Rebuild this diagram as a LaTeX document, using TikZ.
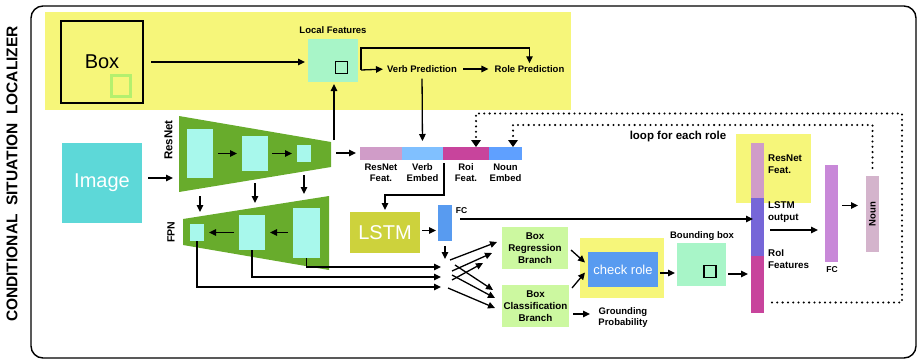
\documentclass[tikz,border=0pt]{standalone}
\usepackage{fontspec}
\setmainfont{Liberation Sans}
\usetikzlibrary{arrows.meta}
\definecolor{yellowbg}{RGB}{246,246,122}
\definecolor{mint}{RGB}{168,245,200}
\definecolor{cyanbox}{RGB}{168,248,236}
\definecolor{netgreen}{RGB}{104,172,44}
\definecolor{turq}{RGB}{93,216,216}
\definecolor{lstmcol}{RGB}{205,210,60}
\definecolor{fcblue}{RGB}{88,155,240}
\definecolor{branchgreen}{RGB}{204,248,160}
\definecolor{lavender}{RGB}{208,156,200}
\definecolor{verbblue}{RGB}{128,192,255}
\definecolor{roimag}{RGB}{200,68,156}
\definecolor{nounblue}{RGB}{95,160,255}
\definecolor{lstmpurple}{RGB}{118,102,216}
\definecolor{orchid}{RGB}{200,136,216}
\definecolor{nounpink}{RGB}{212,180,204}
\definecolor{boxlime}{RGB}{180,240,110}
\tikzset{
  blk/.style={anchor=north west, inner sep=0pt, outer sep=0pt},
  arr/.style={-{Triangle[length=7pt,width=6.5pt]}, line width=1.3pt},
  dotarr/.style={line width=2.3pt, dash pattern=on 0pt off 5.3pt, line cap=round, -{Triangle[length=7pt,width=10pt,line width=0pt]}},
  lbl/.style={font=\bfseries\fontsize{9.5}{11}\selectfont, align=center, inner sep=0pt},
  big/.style={font=\fontsize{20}{22}\selectfont, text=white},
}

\begin{document}
\begin{tikzpicture}[x=1pt,y=-1pt]
            \useasboundingbox (0,0) rectangle (920,360);
            \draw[rounded corners=12pt, line width=1.4pt] (31,6) rectangle (916,358);
            \node[rotate=90, font=\bfseries\fontsize{15.5}{17}\selectfont] (title) at (12,174) {CONDITIONAL\ \ SITUATION\ \ LOCALIZER};
            \fill[yellowbg] (45,12) rectangle (571,110);
            \node[blk, draw, line width=1.2pt, minimum width=82pt, minimum height=82pt, font=\fontsize{20}{22}\selectfont] (box) at (61,21) {Box};
            \node[blk, draw=boxlime, fill=yellowbg, line width=3pt, minimum width=19pt, minimum height=21pt] (boxroi) at (111.5,75.5) {};
            \node[blk, fill=mint, minimum width=50pt, minimum height=43pt] (lf) at (308,39) {};
            \node[blk, draw, fill=mint, line width=1.5pt, minimum width=12pt, minimum height=12pt] (lfroi) at (335.5,61.5) {};
            \node[lbl] (lflab) at (333,30) {Local Features};
            \node[lbl] (vp) at (422,69) {Verb Prediction};
            \node[lbl] (rp) at (529.5,69) {Role Prediction};
            \coordinate (lfout) at (361,70);
            \draw[arr, shorten <=8pt, shorten >=3pt] (box.east) -- (box.east -| lf.west);
            \draw[arr, shorten >=4pt] (lfout) -- (vp.west);
            \draw[arr] (lfout) -- ++(0,-22) -| ([shift={(0,-2)}]rp.north);
            \draw[arr, shorten <=6pt, shorten >=6pt] (vp) -- (rp);
            \node[blk, fill=lavender, minimum width=42pt, minimum height=13pt] (rfeat) at (360,147) {};
            \node[blk, fill=verbblue, minimum width=41pt, minimum height=13pt] (vemb) at (402,147) {};
            \node[blk, fill=roimag, minimum width=46pt, minimum height=13pt] (roif) at (443,147) {};
            \node[blk, fill=nounblue, minimum width=33pt, minimum height=13pt] (nemb) at (489,147) {};
            \node[lbl] at (381,172.5) {ResNet\\Feat.};
            \node[lbl] at (422.5,172.5) {Verb\\Embed};
            \node[lbl] at (466,172.5) {Roi\\Feat.};
            \node[lbl] at (505.5,172.5) {Noun\\Embed};
            \draw[arr, shorten <=6pt, shorten >=6pt] (vp.south) -- (vemb.north);
            \node[blk, fill=turq, minimum width=80pt, minimum height=80pt, big] (img) at (62,143) {Image};
            \fill[netgreen] (179,116) -- (331,142) -- (331,167) -- (179,192) -- cycle;
            \node[blk, fill=cyanbox, minimum width=26pt, minimum height=49pt] (r1) at (187,129) {};
            \node[blk, fill=cyanbox, minimum width=26pt, minimum height=35pt] (r2) at (242,136) {};
            \node[blk, fill=cyanbox, minimum width=14pt, minimum height=17pt] (r3) at (297,145) {};
            \node[rotate=90, lbl, font=\bfseries\fontsize{11.5}{13}\selectfont] (rnlab) at (168.5,140) {ResNet};
            \draw[arr, shorten <=5pt, shorten >=5pt] (r1.east |- r2.east) -- (r2.east -| r2.west);
            \draw[arr, shorten <=4pt, shorten >=5pt] (r2.east) -- (r3.west |- r2.east);
            \draw[arr] ([shift={(6,-5)}]img.east) -- ++(25,0);
            \coordinate (rnout) at (334,140);
            \coordinate (rnright) at (336,153);
            \draw[arr, shorten >=2pt] (rnout) -- (rnout |- lf.south);
            \draw[arr, shorten >=4pt] (rnright) -- (rnright -| rfeat.west);
            \fill[netgreen] (183,219) -- (329,196) -- (329,270) -- (183,245) -- cycle;
            \node[blk, fill=cyanbox, minimum width=14pt, minimum height=17pt] (f1) at (190,224) {};
            \node[blk, fill=cyanbox, minimum width=26pt, minimum height=35pt] (f2) at (239,215) {};
            \node[blk, fill=cyanbox, minimum width=27pt, minimum height=50pt] (f3) at (293,208) {};
            \node[rotate=90, lbl, font=\bfseries\fontsize{10.5}{12}\selectfont] (fpnlab) at (171,232) {FPN};
            \draw[arr, shorten <=5pt, shorten >=5pt] (f3.west |- f2.west) -- (f2.east);
            \draw[arr, shorten <=5pt, shorten >=5pt] (f2.west |- f1.east) -- (f1.east);
            \draw[arr] ([shift={(0,18)}]r1.south) -- ++(0,16);
            \draw[arr] ([shift={(0,12)}]r2.south) -- ++(0,20);
            \draw[arr] ([shift={(0,13)}]r3.south) -- ++(0,19);
            \coordinate (fanin) at (441,277);
            \draw[arr] (f3.south) |- ([shift={(0,-10)}]fanin);
            \draw[arr] (f2.south) |- (fanin);
            \draw[arr] (f1.south) |- ([shift={(0,10)}]fanin);
            \node[blk, fill=lstmcol, minimum width=70pt, minimum height=41pt, big] (lstm) at (350,212) {LSTM};
            \draw[arr, shorten >=2pt] ([shift={(1,3)}]vemb.south east) -- ++(0,32) -| (lstm.north);
            \node[blk, fill=fcblue, minimum width=14pt, minimum height=36pt] (fcl) at (438,205) {};
            \node[lbl, font=\bfseries\fontsize{8.5}{10}\selectfont] at (461.5,211) {FC};
            \draw[arr, shorten <=2pt, shorten >=2pt] ([shift={(0,-2)}]lstm.east) -- ([shift={(0,-2)}]lstm.east -| fcl.west);
            \draw[arr, shorten <=5pt] (fcl.south) -- ++(0,18);
            \node[blk, fill=branchgreen, minimum width=66pt, minimum height=42pt, lbl, font=\bfseries\fontsize{9.8}{11.8}\selectfont] (breg) at (502,227) {Box\\Regression\\Branch};
            \node[blk, fill=branchgreen, minimum width=67pt, minimum height=42pt, lbl, font=\bfseries\fontsize{9.8}{11.8}\selectfont] (bcls) at (502,285) {Box\\Classification\\Branch};
            \coordinate (fan) at (450,272);
            \draw[arr] ([shift={(0,-12)}]fan) -- ([shift={(-5,-6)}]breg.west);
            \draw[arr] ([shift={(2,-1)}]fan) -- ([shift={(-10,5)}]breg.west);
            \draw[arr] ([shift={(2,8)}]fan) -- ([shift={(-19,15)}]breg.west);
            \draw[arr] ([shift={(5,-7)}]fan) -- ([shift={(-9,-16)}]bcls.west);
            \draw[arr] ([shift={(2,3)}]fan) -- ([shift={(-7,-8)}]bcls.west);
            \draw[arr] ([shift={(-2,16)}]fan) -- ([shift={(-7,2)}]bcls.west);
            \node[lbl, font=\bfseries\fontsize{9.5}{11.5}\selectfont] (gp) at (623,317.5) {Grounding\\Probability};
            \draw[arr] ([shift={(4,8)}]bcls.east) -- ++(17,0);
            \node[blk, fill=yellowbg, minimum width=84pt, minimum height=60pt] (crbg) at (580,238) {};
            \node[blk, fill=fcblue, minimum width=70pt, minimum height=35pt, text=white, font=\fontsize{13}{15}\selectfont] (cr) at (588,252) {check role};
            \draw[arr] ([shift={(3,2)}]breg.east) -- ([shift={(-3,-7)}]cr.west);
            \draw[arr] ([shift={(3,-18)}]bcls.east) -- ([shift={(-3,3)}]cr.west);
            \node[blk, fill=mint, minimum width=49pt, minimum height=43pt] (bbox) at (677,243) {};
            \node[blk, draw, fill=mint, line width=1.5pt, minimum width=12pt, minimum height=12pt] (bbroi) at (704,265.5) {};
            \node[lbl] (bblab) at (702,236) {Bounding box};
            \draw[arr, shorten <=2pt, shorten >=2pt] ([shift={(0,3.5)}]cr.east) -- ([shift={(0,3.5)}]cr.east -| bbox.west);
            \fill[yellowbg] (736,134) rectangle (811,203);
            \node[blk, fill=lavender, minimum width=13pt, minimum height=55pt] (rf2) at (751,143) {};
            \node[blk, fill=lstmpurple, minimum width=13pt, minimum height=58pt] (lo) at (751,198) {};
            \node[blk, fill=roimag, minimum width=13pt, minimum height=57pt] (rif) at (751,256) {};
            \node[lbl, anchor=west, align=left, font=\bfseries\fontsize{9.8}{12.5}\selectfont] at (768,164) {ResNet\\Feat.};
            \node[lbl, anchor=west, align=left, font=\bfseries\fontsize{9.8}{12.5}\selectfont] at (768,212) {LSTM\\output};
            \node[lbl, anchor=west, align=left, font=\bfseries\fontsize{9.8}{12.5}\selectfont] at (768,259) {RoI\\Features};
            \node[lbl, font=\bfseries\fontsize{11.5}{13}\selectfont] (looplab) at (678,137) {loop for each role};
            \draw[arr, shorten <=2pt, shorten >=3pt] ([shift={(0,9.5)}]bbox.east) -- ([shift={(0,9.5)}]bbox.east -| rif.west);
            \draw[arr, shorten >=6pt] ([shift={(8,-4)}]fcl.east) -- ([shift={(8,-4)}]fcl.east -| lo.west);
            \node[blk, fill=orchid, minimum width=13pt, minimum height=97pt] (fcr) at (825,165) {};
            \node[lbl, font=\bfseries\fontsize{8.5}{10}\selectfont] at (832,270) {FC};
            \draw[arr] (770,230) -- (818,230);
            \node[blk, fill=nounpink, minimum width=13pt, minimum height=76pt] (noun) at (866,176) {};
            \node[rotate=90, lbl] at (noun.center) {Noun};
            \draw[arr] ([shift={(4,-8)}]fcr.east) -- ++(16,0);
            \draw[dotarr] ([shift={(8,18)}]rif.east) -- ++(130,0) -- ++(0,-189) -| ([xshift=10]roif.north);
            \draw[dotarr] ([shift={(0,-8)}]noun.north) -- ++(0,-43) -| ([xshift=7.5]nemb.north);
\end{tikzpicture}
\end{document}
